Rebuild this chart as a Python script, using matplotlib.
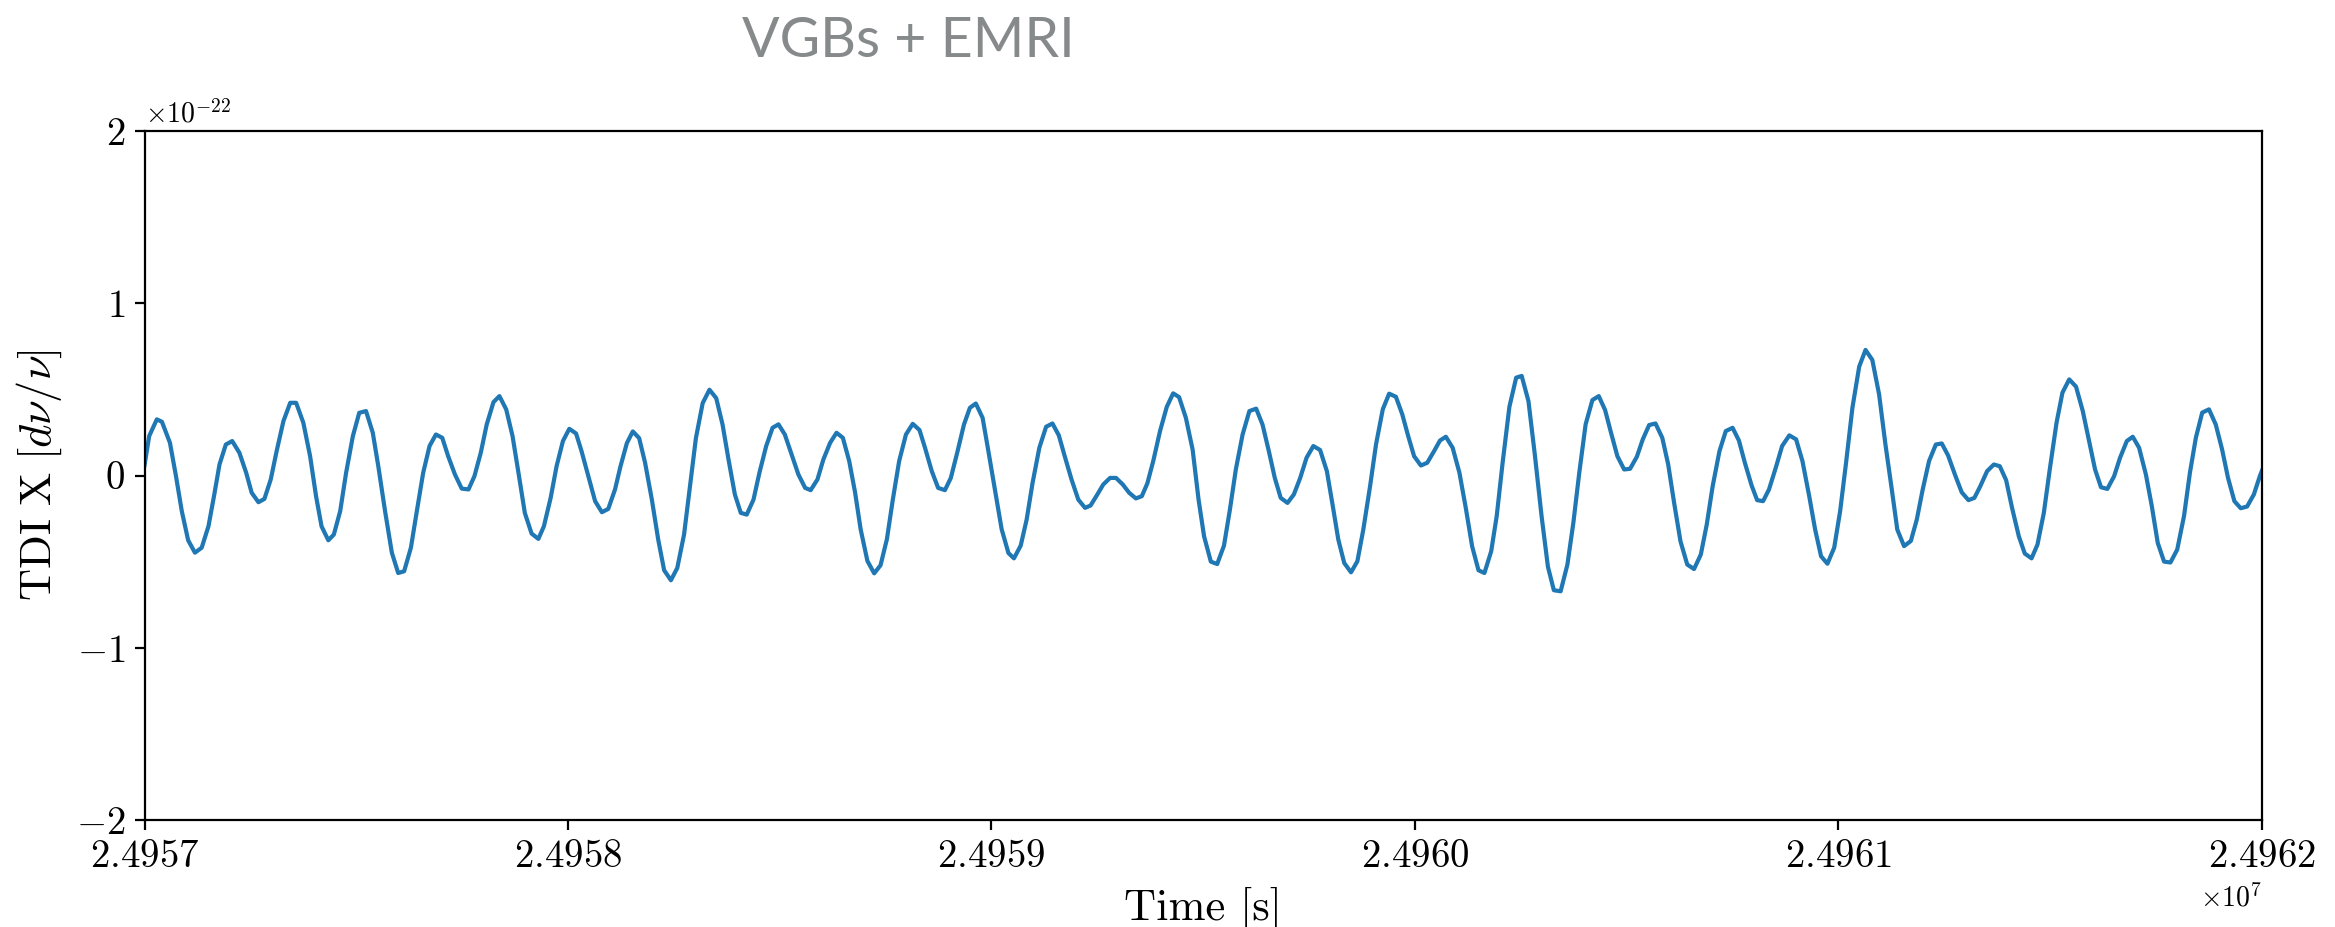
import matplotlib
matplotlib.use("Agg")
import matplotlib.pyplot as plt
import numpy as np

# ---- data ----
t_start = 24957000.0  # s
t_offset = [
    0, 11, 29, 41, 60, 74, 88, 103, 119, 135, 151, 164, 177, 192, 207, 224, 240, 253, 269, 283,
    298, 312, 328, 344, 358, 375, 391, 405, 418, 434, 447, 462, 476, 492, 507, 523, 539, 552, 568, 584,
    599, 613, 629, 643, 658, 673, 688, 703, 717, 733, 749, 765, 779, 794, 808, 824, 838,
    854, 869, 883, 898, 914, 930, 943, 959, 973, 988, 1003, 1019, 1032, 1048, 1064, 1080, 1095, 1111, 1124, 1139,
    1153, 1168, 1182, 1198, 1213, 1227, 1243, 1258, 1274, 1288, 1302, 1318, 1334, 1350, 1365, 1379, 1394, 1408, 1422, 1438,
    1452, 1468, 1483, 1497, 1512, 1528, 1544, 1560, 1573, 1589, 1603, 1619, 1634, 1649,
    1664, 1678, 1691, 1707, 1723, 1738, 1753, 1767, 1782, 1798, 1814, 1830, 1843, 1859, 1874, 1890, 1904, 1919, 1935, 1949,
    1963, 1979, 1992, 2008, 2024, 2040, 2053, 2069, 2083, 2097, 2113, 2129, 2144, 2159, 2174, 2189, 2205, 2221, 2234, 2250,
    2264, 2280, 2294, 2310, 2325, 2341, 2355, 2368, 2382, 2398, 2414, 2429, 2443, 2459,
    2475, 2489, 2502, 2518, 2533, 2549, 2563, 2577, 2593, 2609, 2625, 2640, 2655, 2669, 2683, 2699, 2714, 2729, 2744, 2760,
    2776, 2792, 2806, 2819, 2833, 2849, 2864, 2878, 2894, 2908, 2924, 2939, 2955, 2970, 2984, 2998, 3014, 3029, 3045, 3059,
    3073, 3089, 3105, 3120, 3135, 3150, 3164, 3180, 3193, 3207, 3223, 3239, 3252, 3268, 3283, 3299, 3314,
    3328, 3344, 3360, 3374, 3388, 3403, 3419, 3434, 3449, 3463, 3478, 3494, 3508, 3524, 3538, 3553, 3568, 3584, 3598, 3612,
    3627, 3643, 3659, 3675, 3689, 3703, 3719, 3734, 3750, 3765, 3779, 3795, 3808, 3822, 3836, 3852, 3867, 3884, 3900, 3915,
    3931, 3945, 3959, 3974, 3990, 4004, 4018, 4033, 4049, 4064, 4080, 4096, 4111, 4126,
    4139, 4155, 4171, 4185, 4199, 4214, 4230, 4244, 4259, 4275, 4291, 4307, 4321, 4335, 4351, 4367, 4381, 4396, 4410, 4426,
    4440, 4456, 4470, 4485, 4499, 4515, 4529, 4545, 4561, 4577, 4592, 4606, 4620, 4635, 4651, 4665, 4681, 4695, 4710, 4726,
    4740, 4754, 4769, 4784, 4800, 4816, 4830, 4844, 4859, 4875, 4891, 4906, 4920, 4935, 4950, 4965, 4981, 4995, 5010,
]
# TDI X values in units of 1e-22
x_e22 = [
    0.06, 0.229, 0.326, 0.312, 0.19, 0.0, -0.207, -0.376, -0.448, -0.419, -0.294, -0.12, 0.064, 0.18, 0.2, 0.132, 0.016, -0.1, -0.155, -0.136,
    -0.023, 0.142, 0.316, 0.422, 0.422, 0.306, 0.112, -0.12, -0.295, -0.376, -0.343, -0.207, 0.016, 0.229, 0.364, 0.374, 0.248, 0.054, -0.207, -0.448,
    -0.566, -0.556, -0.419, -0.207, 0.016, 0.171, 0.238, 0.219, 0.112, 0.006, -0.076, -0.081, -0.004, 0.132, 0.296, 0.426, 0.461,
    0.384, 0.229, 0.016, -0.217, -0.337, -0.368, -0.295, -0.13, 0.054, 0.2, 0.271, 0.244, 0.141, -0.004, -0.149, -0.213, -0.194, -0.081, 0.054, 0.188,
    0.256, 0.217, 0.074, -0.14, -0.372, -0.55, -0.608, -0.537, -0.343, -0.062, 0.217, 0.42, 0.498, 0.449, 0.295, 0.093, -0.11, -0.217, -0.227, -0.14,
    0.016, 0.171, 0.277, 0.297, 0.238, 0.122, 0.006, -0.072, -0.085, -0.023, 0.093, 0.19, 0.248, 0.219,
    0.084, -0.1, -0.312, -0.496, -0.568, -0.521, -0.37, -0.14, 0.084, 0.238, 0.3, 0.264, 0.161, 0.025, -0.072, -0.085, -0.014, 0.132, 0.296, 0.393,
    0.418, 0.335, 0.151, -0.081, -0.312, -0.45, -0.481, -0.407, -0.256, -0.043, 0.161, 0.283, 0.302, 0.233, 0.103, -0.023, -0.14, -0.188, -0.174, -0.11,
    -0.052, -0.014, -0.014, -0.052, -0.1, -0.133, -0.12, -0.046, 0.084, 0.258, 0.399, 0.477, 0.455, 0.335,
    0.15, -0.14, -0.353, -0.5, -0.514, -0.407, -0.198, 0.035, 0.238, 0.374, 0.388, 0.296, 0.141, -0.014, -0.13, -0.159, -0.11, -0.014, 0.103, 0.171,
    0.148, 0.025, -0.178, -0.372, -0.508, -0.562, -0.498, -0.314, -0.062, 0.18, 0.384, 0.475, 0.457, 0.355, 0.229, 0.112, 0.058, 0.074, 0.141, 0.203,
    0.225, 0.161, 0.016, -0.188, -0.411, -0.55, -0.566, -0.44, -0.236, 0.074, 0.399, 0.568, 0.578, 0.432, 0.122, -0.236, -0.53,
    -0.666, -0.672, -0.517, -0.275, 0.016, 0.297, 0.438, 0.461, 0.38, 0.248, 0.112, 0.035, 0.039, 0.109, 0.21, 0.293, 0.302, 0.219, 0.064, -0.159,
    -0.382, -0.517, -0.543, -0.459, -0.285, -0.062, 0.141, 0.258, 0.277, 0.203, 0.074, -0.058, -0.143, -0.149, -0.081, 0.045, 0.171, 0.233, 0.21, 0.084,
    -0.12, -0.314, -0.469, -0.512, -0.419, -0.207, 0.074, 0.393, 0.632, 0.729, 0.671, 0.471, 0.18, -0.081,
    -0.314, -0.41, -0.38, -0.256, -0.081, 0.084, 0.18, 0.186, 0.116, 0.006, -0.097, -0.143, -0.13, -0.062, 0.025, 0.064, 0.054, -0.027, -0.188, -0.353,
    -0.453, -0.481, -0.401, -0.217, 0.035, 0.306, 0.481, 0.558, 0.516, 0.374, 0.2, 0.035, -0.068, -0.078, -0.004, 0.103, 0.2, 0.225, 0.161, 0.006,
    -0.178, -0.391, -0.5, -0.505, -0.43, -0.236, 0.016, 0.219, 0.365, 0.384, 0.296, 0.151, -0.014, -0.149, -0.19, -0.18, -0.11, -0.004, 0.09,
]
x_limits = (24957000, 24962000)
y_limits = (-2e-22, 2e-22)
y_ticks = [-2e-22, -1e-22, 0, 1e-22, 2e-22]
title_text = "VGBs + EMRI"
x_label = "Time [s]"
y_label = r"$\mathrm{TDI\ X}\ [d\nu/\nu]$"

# ---- style ----
plt.rcParams["font.family"] = ["serif"]
plt.rcParams["font.serif"] = ["cmr10", "DejaVu Serif"]
plt.rcParams["mathtext.fontset"] = "cm"
plt.rcParams["axes.formatter.use_mathtext"] = True
plt.rcParams["axes.unicode_minus"] = True

time = t_start + np.asarray(t_offset, dtype=float)
signal = np.asarray(x_e22) * 1e-22

fig = plt.figure(figsize=(2335 / 200, 927 / 200), dpi=200)
ax = fig.add_axes([0.0619, 0.1154, 0.9068, 0.7433])
ax.plot(time, signal, color="#1f77b4", lw=1.5)
ax.set_xlim(*x_limits)
ax.set_ylim(*y_limits)
ax.set_yticks(y_ticks)

fmt = matplotlib.ticker.ScalarFormatter(useOffset=False, useMathText=True)
ax.xaxis.set_major_formatter(fmt)
ax.xaxis.set_major_locator(matplotlib.ticker.MultipleLocator(1000))
ax.tick_params(labelsize=14)
ax.set_xlabel(x_label, fontsize=16)
ax.set_ylabel(y_label, fontsize=16)

fig.text(0.389, 0.955, title_text, ha="center", va="center", fontsize=20,
         color="#868a8a", family=["Lato", "DejaVu Sans"])

fig.savefig("out.png", dpi=200)
